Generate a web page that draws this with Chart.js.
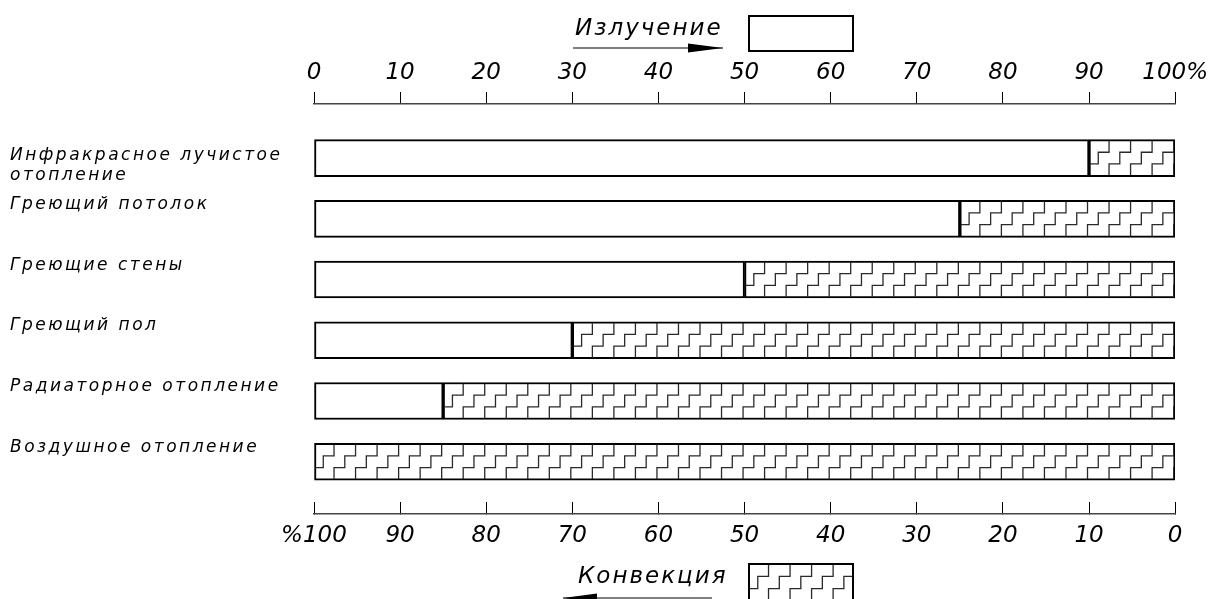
<!DOCTYPE html>
<html lang="ru">
<head>
<meta charset="utf-8">
<title>Излучение и конвекция</title>
<script src="https://cdn.jsdelivr.net/npm/chart.js@4.4.1/dist/chart.umd.min.js"></script>
<style>
  html, body { margin: 0; padding: 0; background: #fff; }
  #wrap { width: 1213px; height: 599px; }
</style>
</head>
<body>
<div id="wrap"><canvas id="grafico"></canvas></div>
<script>
const categories = [
  ['Инфракрасное лучистое', 'отопление'],
  ['Греющий потолок'],
  ['Греющие стены'],
  ['Греющий пол'],
  ['Радиаторное отопление'],
  ['Воздушное отопление']
];
const radiation = [90, 75, 50, 30, 15, 0];
const convection = [10, 25, 50, 70, 85, 100];
const topTickLabels = ['0', '10', '20', '30', '40', '50', '60', '70', '80', '90', '100%'];
const bottomTickLabels = ['%100', '90', '80', '70', '60', '50', '40', '30', '20', '10', '0'];

const FONT = '"DejaVu Sans", sans-serif';
const ctx = document.getElementById('grafico').getContext('2d');

// лесенка (штриховка конвекции)
function drawSteps(c, left, top, right, bottom, anchor, period) {
  const h = (bottom - top) / 3;
  const s = period / 2;
  c.save();
  c.beginPath();
  c.rect(left, top, right - left, bottom - top);
  c.clip();
  c.strokeStyle = '#2a2a2a';
  c.lineWidth = 1.3;
  c.beginPath();
  let x0 = anchor - Math.ceil((anchor - left) / period + 2) * period;
  for (; x0 < right + period; x0 += period) {
    c.moveTo(x0, bottom);
    c.lineTo(x0, bottom - h);
    c.lineTo(x0 + s, bottom - h);
    c.lineTo(x0 + s, bottom - 2 * h);
    c.lineTo(x0 + 2 * s, bottom - 2 * h);
    c.lineTo(x0 + 2 * s, top);
  }
  c.stroke();
  c.restore();
}

function arrow(c, x1, x2, y, tipLeft) {
  c.save();
  c.strokeStyle = '#000';
  c.fillStyle = '#000';
  c.lineWidth = 1.2;
  c.beginPath();
  c.moveTo(x1, y);
  c.lineTo(x2, y);
  c.stroke();
  c.beginPath();
  if (tipLeft) {
    c.moveTo(x1, y);
    c.lineTo(x1 + 34, y - 4.5);
    c.lineTo(x1 + 34, y + 4.5);
  } else {
    c.moveTo(x2, y);
    c.lineTo(x2 - 35, y - 4.5);
    c.lineTo(x2 - 35, y + 4.5);
  }
  c.closePath();
  c.fill();
  c.restore();
}

const hatchPlugin = {
  id: 'hatch',
  beforeDraw(chart) {
    chart.ctx.letterSpacing = '0px';
  },
  afterDatasetsDraw(chart) {
    const c = chart.ctx;
    const area = chart.chartArea;
    const period = (area.right - area.left) / 40;
    const meta = chart.getDatasetMeta(1);
    meta.data.forEach(bar => {
      const p = bar.getProps(['x', 'y', 'base', 'height'], true);
      if (Math.abs(p.x - p.base) < 1) return;
      const l = Math.min(p.x, p.base), r = Math.max(p.x, p.base);
      drawSteps(c, l + 1, p.y - p.height / 2 + 1, r - 1, p.y + p.height / 2 - 1, area.left - 1.5, period);
    });
  },
  afterDraw(chart) {
    const c = chart.ctx;
    const yScale = chart.scales.y;
    const area = chart.chartArea;

    // подписи категорий
    c.save();
    c.fillStyle = '#000';
    c.font = 'italic 17px ' + FONT;
    c.letterSpacing = '2.5px';
    c.textAlign = 'left';
    c.textBaseline = 'alphabetic';
    categories.forEach((lines, i) => {
      const yc = yScale.getPixelForValue(i);
      const y0 = yc - 10 + (lines.length - 1) * 12;
      lines.forEach((t, j) => c.fillText(t, 10, y0 + j * 20));
    });

    // легенда
    const ds = chart.data.datasets;
    c.font = 'italic 23px ' + FONT;
    c.letterSpacing = '2px';
    c.fillText(ds[0].label, 575, 35);
    c.fillText(ds[1].label, 578, 583);
    c.restore();

    arrow(c, 573, 723, 48, false);
    arrow(c, 563, 712, 598, true);

    c.save();
    c.strokeStyle = '#000';
    c.lineWidth = 2;
    c.fillStyle = '#fff';
    c.fillRect(749, 16, 104, 35);
    c.strokeRect(749, 16, 104, 35);
    c.fillRect(749, 564, 104, 37);
    c.restore();
    drawSteps(c, 749, 564, 853, 601, 749 - 2, (area.right - area.left) / 40);
    c.save();
    c.strokeStyle = '#000';
    c.lineWidth = 2;
    c.strokeRect(749, 564, 104, 37);
    c.restore();
  }
};

const xTicksFont = { family: FONT, size: 23, style: 'italic' };

const myChart = new Chart(ctx, {
  type: 'bar',
  data: {
    datasets: [{
      label: 'Излучение',
      data: radiation.map((v, i) => ({ x: v, y: i })),
      backgroundColor: '#fff',
      borderColor: '#000',
      borderWidth: 2,
      borderSkipped: false,
      barThickness: 37
    }, {
      label: 'Конвекция',
      data: convection.map((v, i) => ({ x: v, y: i })),
      backgroundColor: '#fff',
      borderColor: '#000',
      borderWidth: 2,
      borderSkipped: false,
      barThickness: 37
    }]
  },
  options: {
    indexAxis: 'y',
    responsive: true,
    maintainAspectRatio: false,
    animation: false,
    layout: { padding: { left: 314, right: 37, top: 54, bottom: 45 } },
    plugins: {
      legend: { display: false },
      tooltip: { enabled: false }
    },
    scales: {
      y: {
        type: 'linear',
        min: -0.89,
        max: 5.86,
        reverse: true,
        offset: false,
        stacked: true,
        display: false
      },
      x: {
        type: 'linear',
        position: 'top',
        min: 0,
        max: 100,
        stacked: true,
        afterFit: s => { s.height = 50; },
        ticks: {
          stepSize: 10,
          autoSkip: false,
          maxRotation: 0,
          padding: 5,
          color: '#000',
          font: xTicksFont,
          callback: v => topTickLabels[v / 10]
        },
        grid: { drawOnChartArea: false, tickLength: 12, color: '#000', lineWidth: 1 },
        border: { color: '#444', width: 1.5 }
      },
      x2: {
        type: 'linear',
        position: 'bottom',
        min: 0,
        max: 100,
        reverse: true,
        afterFit: s => { s.height = 40; },
        ticks: {
          stepSize: 10,
          autoSkip: false,
          maxRotation: 0,
          padding: 20,
          color: '#000',
          font: xTicksFont,
          callback: v => bottomTickLabels[(100 - v) / 10]
        },
        grid: { drawOnChartArea: false, tickLength: -12, color: '#000', lineWidth: 1 },
        border: { color: '#444', width: 1.5 }
      }
    }
  },
  plugins: [hatchPlugin]
});
</script>
</body>
</html>
